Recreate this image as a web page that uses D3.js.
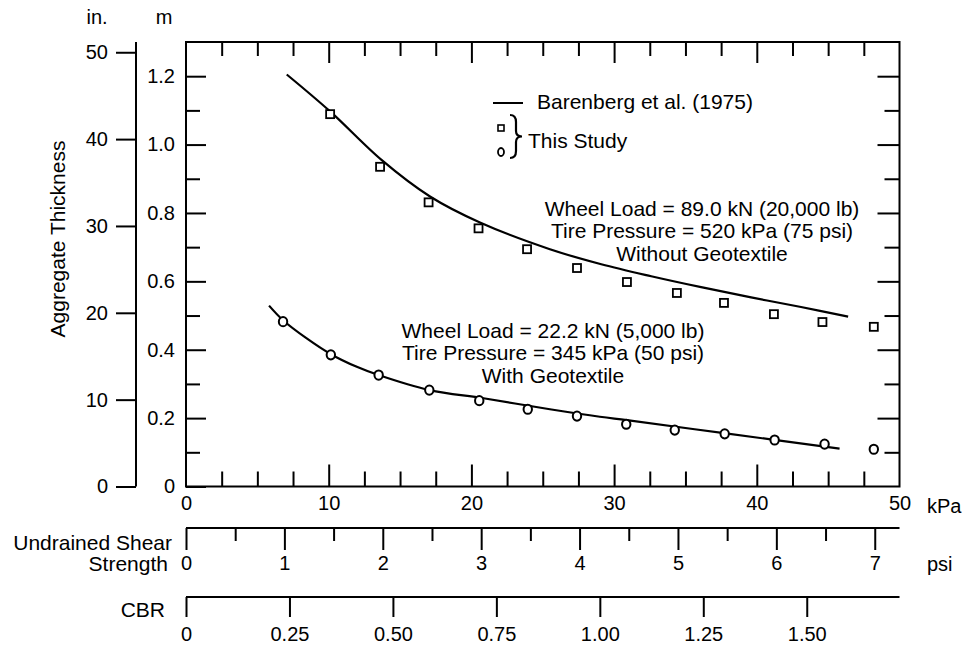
<!DOCTYPE html>
<html>
<head>
<meta charset="utf-8">
<script src="https://cdn.jsdelivr.net/npm/d3@7"></script>
<style>
	body { margin: 0; background: #fff; }
	svg text { font-family: "Liberation Sans", Arial, sans-serif; fill: #000; }
	.axis path, .axis line { stroke: #000; stroke-width: 2; }
	.axis text { font-size: 20px; }
</style>
</head>
<body>
<svg id="chart"></svg>
<script>
// values (x in kPa, y in m)
const squareKPa = [10.1, 13.6, 17.0, 20.5, 23.9, 27.4, 30.9, 34.4, 37.7, 41.2, 44.6, 48.2];
const squareM = [1.089, 0.935, 0.831, 0.755, 0.694, 0.639, 0.598, 0.566, 0.537, 0.504, 0.481, 0.467];
const circleKPa = [6.8, 10.15, 13.5, 17.05, 20.55, 23.95, 27.4, 30.85, 34.25, 37.75, 41.25, 44.75, 48.2];
const circleM = [0.482, 0.385, 0.326, 0.282, 0.251, 0.226, 0.206, 0.182, 0.165, 0.154, 0.136, 0.124, 0.109];

// Barenberg et al. (1975) curves
const curveAKPa = [7.06, 10.1, 13.7, 17.1, 20.6, 25.5, 29.1, 32.6, 36.1, 39.6, 43.1, 46.4];
const curveAM = [1.205, 1.097, 0.955, 0.848, 0.772, 0.694, 0.65, 0.615, 0.583, 0.553, 0.525, 0.497];
const curveBKPa = [5.82, 6.78, 8.46, 10.15, 11.97, 13.49, 17.06, 20.85, 25.5, 29.0, 30.9, 37.7, 45.8];
const curveBM = [0.529, 0.487, 0.433, 0.387, 0.35, 0.326, 0.282, 0.258, 0.226, 0.204, 0.194, 0.156, 0.111];

// tick labels
const inchTicks = [0, 10, 20, 30, 40, 50];
const mTicks = [0, 0.2, 0.4, 0.6, 0.8, 1.0, 1.2];
const mMinor = [0.1, 0.3, 0.5, 0.7, 0.9, 1.1];
const kPaTicks = [0, 10, 20, 30, 40, 50];
const kPaMinor = [2.5, 5, 7.5, 12.5, 15, 17.5, 22.5, 25, 27.5, 32.5, 35, 37.5, 42.5, 45, 47.5];
const psiTicks = [0, 1, 2, 3, 4, 5, 6, 7];
const psiMinor = [0.5, 1.5, 2.5, 3.5, 4.5, 5.5, 6.5];
const cbrTicks = [0, 0.25, 0.5, 0.75, 1.0, 1.25, 1.5];

const annotA = ["Wheel Load = 89.0 kN (20,000 lb)", "Tire Pressure = 520 kPa (75 psi)", "Without Geotextile"];
const annotB = ["Wheel Load = 22.2 kN (5,000 lb)", "Tire Pressure = 345 kPa (50 psi)", "With Geotextile"];

const size = { w: 966, h: 647 };
const frame = { l: 186, r: 899.5, t: 42, b: 486.5 };
const svg = d3.select("svg#chart").attr("width", size.w).attr("height", size.h);

const x = d3.scaleLinear().domain([0, 50]).range([frame.l, frame.r]);
const yM = d3.scaleLinear().domain([0, 1.3]).range([frame.b, frame.t]);
const yIn = d3.scaleLinear().domain([0, 1.3 / 0.0254]).range([frame.b, frame.t]);
const xPsi = d3.scaleLinear().domain([0, 50 / 6.895]).range([frame.l, frame.r]);
const xCbr = d3.scaleLinear().domain([0, 50 / 29]).range([frame.l, frame.r]);

const fmtM = (d) => (d === 0 ? "0" : d3.format(".1f")(d));
const fmtCbr = (d) => (d === 0 ? "0" : d3.format(".2f")(d));

function tickAxis(axis, y0, x0) {
	return svg
		.append("g")
		.classed("axis", true)
		.attr("transform", `translate(${x0 || 0}, ${y0 || 0})`)
		.call(axis);
}

// inch axis (separate line at the left)
tickAxis(d3.axisLeft(yIn).tickValues(inchTicks).tickSize(20).tickPadding(8), 0, 136)
	.call((g) => g.select(".domain").attr("d", `M0,${frame.t}V${frame.b}`));

// metre axis: ticks pointing into the plot
tickAxis(d3.axisLeft(yM).tickValues(mMinor).tickSize(-14).tickFormat(""), 0, frame.l)
	.call((g) => g.select(".domain").remove());
tickAxis(d3.axisLeft(yM).tickValues(mTicks).tickSize(-20).tickPadding(11).tickFormat(fmtM), 0, frame.l)
	.call((g) => g.select(".domain").remove());

// right border mirrors the metre ticks
tickAxis(d3.axisRight(yM).tickValues(mMinor).tickSize(-15).tickFormat(""), 0, frame.r)
	.call((g) => g.select(".domain").remove());
tickAxis(d3.axisRight(yM).tickValues(mTicks.slice(1)).tickSize(-22).tickFormat(""), 0, frame.r)
	.call((g) => g.select(".domain").remove());

// kPa: bottom and top borders
tickAxis(d3.axisBottom(x).tickValues(kPaMinor).tickSize(-15).tickFormat(""), frame.b)
	.call((g) => g.select(".domain").remove());
tickAxis(d3.axisBottom(x).tickValues(kPaTicks).tickSize(-22).tickPadding(9), frame.b)
	.call((g) => g.select(".domain").remove())
	.call((g) => g.selectAll(".tick line").filter((d) => d === 0 || d === 50).remove());
tickAxis(d3.axisTop(x).tickValues(kPaMinor).tickSize(-14).tickFormat(""), frame.t)
	.call((g) => g.select(".domain").remove());
tickAxis(d3.axisTop(x).tickValues([10, 20, 30, 40]).tickSize(-21).tickFormat(""), frame.t)
	.call((g) => g.select(".domain").remove());

// plot frame
svg
	.append("rect")
	.attr("x", frame.l)
	.attr("y", frame.t)
	.attr("width", frame.r - frame.l)
	.attr("height", frame.b - frame.t)
	.attr("fill", "none")
	.attr("stroke", "#000")
	.attr("stroke-width", 2);

// psi scale
tickAxis(d3.axisBottom(xPsi).tickValues(psiMinor).tickSize(13).tickFormat(""), 528)
	.call((g) => g.select(".domain").attr("d", `M${frame.l},0H${frame.r}`));
tickAxis(d3.axisBottom(xPsi).tickValues(psiTicks).tickSize(22).tickPadding(6), 528)
	.call((g) => g.select(".domain").remove());

// CBR scale
tickAxis(d3.axisBottom(xCbr).tickValues(cbrTicks).tickSize(20).tickPadding(10).tickFormat(fmtCbr), 597)
	.call((g) => g.select(".domain").attr("d", `M${frame.l},0H${frame.r}`));

// axis titles
const titles = [
	{ t: "in.", x: 97, y: 24, a: "middle", s: 20 },
	{ t: "m", x: 164, y: 24, a: "middle", s: 20 },
	{ t: "kPa", x: 927, y: 513, a: "start", s: 20 },
	{ t: "Undrained Shear", x: 172, y: 550, a: "end", s: 21 },
	{ t: "Strength", x: 168, y: 571, a: "end", s: 21 },
	{ t: "psi", x: 927, y: 571, a: "start", s: 20 },
	{ t: "CBR", x: 165, y: 617, a: "end", s: 21 },
];
svg
	.append("g")
	.selectAll("text")
	.data(titles)
	.join("text")
	.attr("x", (d) => d.x)
	.attr("y", (d) => d.y)
	.attr("text-anchor", (d) => d.a)
	.style("font-size", (d) => d.s + "px")
	.text((d) => d.t);

svg
	.append("text")
	.attr("transform", "translate(65, 239) rotate(-90)")
	.attr("text-anchor", "middle")
	.style("font-size", "21px")
	.text("Aggregate Thickness");

// curves
const line = d3
	.line()
	.x((d) => x(d[0]))
	.y((d) => yM(d[1]))
	.curve(d3.curveCatmullRom.alpha(0.5));

svg
	.append("g")
	.selectAll("path")
	.data([d3.zip(curveAKPa, curveAM), d3.zip(curveBKPa, curveBM)])
	.join("path")
	.attr("d", line)
	.attr("fill", "none")
	.attr("stroke", "#000")
	.attr("stroke-width", 2.2);

// this study: squares and circles
svg
	.append("g")
	.selectAll("rect")
	.data(d3.zip(squareKPa, squareM))
	.join("rect")
	.attr("x", (d) => x(d[0]) - 4)
	.attr("y", (d) => yM(d[1]) - 4)
	.attr("width", 8)
	.attr("height", 8)
	.attr("fill", "#fff")
	.attr("stroke", "#000")
	.attr("stroke-width", 1.8);

svg
	.append("g")
	.selectAll("ellipse")
	.data(d3.zip(circleKPa, circleM))
	.join("ellipse")
	.attr("cx", (d) => x(d[0]))
	.attr("cy", (d) => yM(d[1]))
	.attr("rx", 4.2)
	.attr("ry", 4.6)
	.attr("fill", "#fff")
	.attr("stroke", "#000")
	.attr("stroke-width", 2);

// legend
const legend = svg.append("g");
legend.append("line").attr("x1", 493).attr("x2", 523).attr("y1", 103).attr("y2", 103)
	.attr("stroke", "#000").attr("stroke-width", 2);
legend.append("text").attr("x", 537).attr("y", 108.5).style("font-size", "21px")
	.text("Barenberg et al. (1975)");
legend.append("rect").attr("x", 498).attr("y", 125).attr("width", 6).attr("height", 6)
	.attr("fill", "none").attr("stroke", "#000").attr("stroke-width", 1.6);
legend.append("ellipse").attr("cx", 501).attr("cy", 152).attr("rx", 3).attr("ry", 4)
	.attr("fill", "none").attr("stroke", "#000").attr("stroke-width", 1.8);
legend.append("path")
	.attr("d", "M510,115 Q516,115 516,122 L516,131 Q516,136.5 522,136.5 Q516,136.5 516,142 L516,151 Q516,158 510,158")
	.attr("fill", "none").attr("stroke", "#000").attr("stroke-width", 2.2);
legend.append("text").attr("x", 528).attr("y", 147.5).style("font-size", "21px").text("This Study");

// condition notes
function notes(lines, cx, y0) {
	svg
		.append("g")
		.selectAll("text")
		.data(lines)
		.join("text")
		.attr("x", cx)
		.attr("y", (d, i) => y0 + i * 22.5)
		.attr("text-anchor", "middle")
		.style("font-size", "21px")
		.text((d) => d);
}
notes(annotA, 702, 215.5);
notes(annotB, 553, 337.5);
</script>
</body>
</html>
